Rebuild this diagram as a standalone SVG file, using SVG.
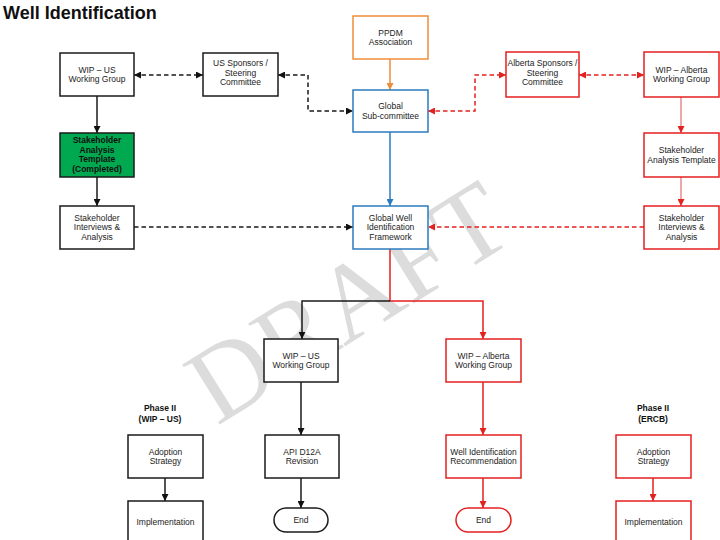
<svg xmlns="http://www.w3.org/2000/svg" width="720" height="540" viewBox="0 0 720 540">
<style>
.box{fill:#fff;stroke-width:1.5}
.k{stroke:#1a1a1a}
.r{stroke:#e3211f}
.b{stroke:#2c7bbf}
.o{stroke:#ee8d3a}
.t{font-family:"Liberation Sans",Arial,sans-serif;font-size:8.5px;fill:#222;text-anchor:middle}
.tb{font-family:"Liberation Sans",Arial,sans-serif;font-size:8.5px;font-weight:bold;fill:#111;text-anchor:middle}
.c{fill:none;stroke-width:1.5}
.d{stroke-dasharray:4.5 3}
</style>
<defs>
<marker id="ak" viewBox="0 0 8 8" refX="8" refY="4" markerWidth="7" markerHeight="7" markerUnits="userSpaceOnUse" orient="auto-start-reverse"><path d="M0,0L8,4L0,8z" fill="#111"/></marker>
<marker id="ar" viewBox="0 0 8 8" refX="8" refY="4" markerWidth="7" markerHeight="7" markerUnits="userSpaceOnUse" orient="auto-start-reverse"><path d="M0,0L8,4L0,8z" fill="#e3211f"/></marker>
<marker id="ab" viewBox="0 0 8 8" refX="8" refY="4" markerWidth="7" markerHeight="7" markerUnits="userSpaceOnUse" orient="auto-start-reverse"><path d="M0,0L8,4L0,8z" fill="#2c7bbf"/></marker>
<marker id="ao" viewBox="0 0 8 8" refX="8" refY="4" markerWidth="7" markerHeight="7" markerUnits="userSpaceOnUse" orient="auto-start-reverse"><path d="M0,0L8,4L0,8z" fill="#ee8d3a"/></marker>
</defs>
<rect width="720" height="540" fill="#fff"/>
<text x="3" y="19" font-family="Liberation Sans,Arial,sans-serif" font-size="18" font-weight="bold" fill="#111">Well Identification</text>
<g id="watermark"><text transform="translate(348,302) rotate(-32)" x="0" y="36" font-family="Liberation Serif,Times New Roman,serif" font-size="108" fill="#dcdcdc" text-anchor="middle">DRAFT</text></g>

<g id="connectors">
<line class="c k d" x1="134" y1="75" x2="203" y2="75" marker-start="url(#ak)" marker-end="url(#ak)"/>
<path class="c k d" d="M278,75H308V111H353" marker-start="url(#ak)" marker-end="url(#ak)"/>
<line class="c o" x1="390" y1="59" x2="390" y2="90" marker-end="url(#ao)"/>
<line class="c b" x1="390" y1="132" x2="390" y2="206" marker-end="url(#ab)"/>
<path class="c r d" d="M428,111H475V75H506" marker-start="url(#ar)" marker-end="url(#ar)"/>
<line class="c r d" x1="579" y1="75" x2="644" y2="75" marker-start="url(#ar)" marker-end="url(#ar)"/>
<line class="c" stroke="#ea8a8a" x1="681" y1="97" x2="681" y2="133" marker-end="url(#ar)"/>
<line class="c" stroke="#ea8a8a" x1="681" y1="177" x2="681" y2="206" marker-end="url(#ar)"/>
<line class="c k" stroke-width="2" x1="97" y1="96" x2="97" y2="133" marker-end="url(#ak)"/>
<line class="c k" stroke-width="2" x1="97" y1="177" x2="97" y2="206" marker-end="url(#ak)"/>
<line class="c k d" x1="134" y1="227" x2="353" y2="227" marker-end="url(#ak)"/>
<line class="c r d" x1="644" y1="227" x2="428" y2="227" marker-end="url(#ar)"/>
<path class="c r" d="M390,249V301H483V339" marker-end="url(#ar)"/>
<path class="c k" d="M390,301H302V339" marker-end="url(#ak)"/>
<line class="c k" stroke-width="2" x1="301" y1="382" x2="301" y2="435" marker-end="url(#ak)"/>
<line class="c k" stroke-width="2" x1="301" y1="478" x2="301" y2="508" marker-end="url(#ak)"/>
<line class="c r" stroke-width="2" x1="483" y1="382" x2="483" y2="435" marker-end="url(#ar)"/>
<line class="c r" stroke-width="2" x1="483" y1="478" x2="483" y2="508" marker-end="url(#ar)"/>
<line class="c k" stroke-width="2" x1="165" y1="478" x2="165" y2="501" marker-end="url(#ak)"/>
<line class="c r" stroke-width="2" x1="653" y1="478" x2="653" y2="501" marker-end="url(#ar)"/>
</g>

<g id="wip-us-top"><rect class="box k" x="60" y="53" width="74" height="43"/><text class="t" x="97" y="72.75">WIP – US</text><text class="t" x="97" y="82.25">Working Group</text></g>
<g id="us-sponsors"><rect class="box k" x="203" y="53" width="75" height="43"/><text class="t" x="240.5" y="66">US Sponsors /</text><text class="t" x="240.5" y="75.5">Steering</text><text class="t" x="240.5" y="85">Committee</text></g>
<g id="ppdm"><rect class="box o" x="353" y="16" width="75" height="43"/><text class="t" x="390.5" y="35.75">PPDM</text><text class="t" x="390.5" y="45.25">Association</text></g>
<g id="global-sub"><rect class="box b" x="353" y="90" width="75" height="42"/><text class="t" x="390.5" y="109.25">Global</text><text class="t" x="390.5" y="118.75">Sub-committee</text></g>
<g id="alberta-sponsors"><rect class="box r" x="506" y="52" width="73" height="45"/><text class="t" x="542.5" y="66">Alberta Sponsors /</text><text class="t" x="542.5" y="75.5">Steering</text><text class="t" x="542.5" y="85">Committee</text></g>
<g id="wip-alberta-top"><rect class="box r" x="644" y="52" width="75" height="45"/><text class="t" x="681.5" y="72.75">WIP – Alberta</text><text class="t" x="681.5" y="82.25">Working Group</text></g>
<g id="sat-green"><rect class="box k" style="fill:#00a84f" x="60" y="133" width="74" height="44"/><text class="tb" x="97" y="143">Stakeholder</text><text class="tb" x="97" y="152.7">Analysis</text><text class="tb" x="97" y="162.4">Template</text><text class="tb" x="97" y="172.1">(Completed)</text></g>
<g id="sat-red"><rect class="box r" x="644" y="133" width="75" height="44"/><text class="t" x="681.5" y="153.25">Stakeholder</text><text class="t" x="681.5" y="162.75">Analysis Template</text></g>
<g id="sia-us"><rect class="box k" x="60" y="206" width="74" height="43"/><text class="t" x="97" y="220.5">Stakeholder</text><text class="t" x="97" y="230">Interviews &amp;</text><text class="t" x="97" y="239.5">Analysis</text></g>
<g id="global-well"><rect class="box b" x="353" y="206" width="75" height="43"/><text class="t" x="390.5" y="220.5">Global Well</text><text class="t" x="390.5" y="230">Identification</text><text class="t" x="390.5" y="239.5">Framework</text></g>
<g id="sia-alberta"><rect class="box r" x="644" y="206" width="75" height="43"/><text class="t" x="681.5" y="220.5">Stakeholder</text><text class="t" x="681.5" y="230">Interviews &amp;</text><text class="t" x="681.5" y="239.5">Analysis</text></g>
<g id="wip-us-low"><rect class="box k" x="264" y="339" width="74" height="43"/><text class="t" x="301" y="358.75">WIP – US</text><text class="t" x="301" y="368.25">Working Group</text></g>
<g id="wip-alberta-low"><rect class="box r" x="446" y="339" width="75" height="43"/><text class="t" x="483.5" y="358.75">WIP – Alberta</text><text class="t" x="483.5" y="368.25">Working Group</text></g>
<g id="phase-us"><text class="tb" x="160" y="411">Phase II</text><text class="tb" x="160" y="421.5">(WIP – US)</text></g>
<g id="phase-ercb"><text class="tb" x="653" y="411">Phase II</text><text class="tb" x="653" y="421.5">(ERCB)</text></g>
<g id="adoption-us"><rect class="box k" x="128" y="435" width="75" height="43"/><text class="t" x="165.5" y="454.75">Adoption</text><text class="t" x="165.5" y="464.25">Strategy</text></g>
<g id="impl-us"><rect class="box k" x="128" y="501" width="75" height="45"/><text class="t" x="165.5" y="524.5">Implementation</text></g>
<g id="api"><rect class="box k" x="265" y="435" width="74" height="43"/><text class="t" x="302" y="454.75">API D12A</text><text class="t" x="302" y="464.25">Revision</text></g>
<g id="end-us"><rect class="box k" x="274" y="508" width="54" height="24" rx="12"/><text class="t" x="301" y="523">End</text></g>
<g id="wir"><rect class="box r" x="446" y="435" width="75" height="43"/><text class="t" x="483.5" y="454.75">Well Identification</text><text class="t" x="483.5" y="464.25">Recommendation</text></g>
<g id="end-alberta"><rect class="box r" x="456" y="508" width="55" height="24" rx="12"/><text class="t" x="483.5" y="523">End</text></g>
<g id="adoption-ercb"><rect class="box r" x="616" y="435" width="75" height="43"/><text class="t" x="653.5" y="454.75">Adoption</text><text class="t" x="653.5" y="464.25">Strategy</text></g>
<g id="impl-ercb"><rect class="box r" x="616" y="501" width="75" height="45"/><text class="t" x="653.5" y="524.5">Implementation</text></g>
</svg>
